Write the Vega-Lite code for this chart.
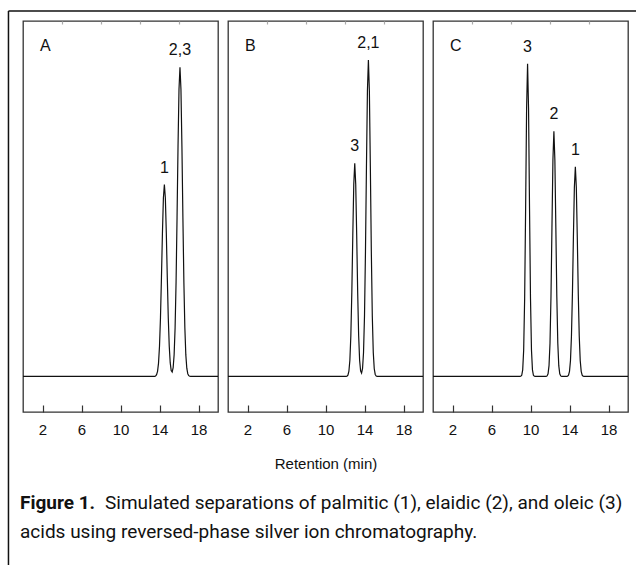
{
  "$schema": "https://vega.github.io/schema/vega-lite/v6.json",
  "padding": {"left": 7, "top": 9, "right": 0, "bottom": 0},
  "background": "white",
  "datasets": {
    "traceA": [{"t":0,"s":0},{"t":13.4,"s":0},{"t":13.5,"s":0.03},{"t":13.6,"s":0.14},{"t":13.7,"s":0.48},{"t":13.8,"s":1.44},{"t":13.9,"s":3.76},{"t":14.0,"s":8.48},{"t":14.1,"s":16.5},{"t":14.2,"s":27.8},{"t":14.3,"s":40.2},{"t":14.4,"s":50.2},{"t":14.5,"s":54},{"t":14.6,"s":50.2},{"t":14.7,"s":40.2},{"t":14.8,"s":27.8},{"t":14.9,"s":16.5},{"t":15.0,"s":8.5},{"t":15.1,"s":3.81},{"t":15.2,"s":1.66},{"t":15.3,"s":1.24},{"t":15.4,"s":2.46},{"t":15.5,"s":6.1},{"t":15.6,"s":13.7},{"t":15.7,"s":26.6},{"t":15.8,"s":44.7},{"t":15.9,"s":64.7},{"t":16.0,"s":80.8},{"t":16.1,"s":87},{"t":16.2,"s":80.8},{"t":16.3,"s":64.7},{"t":16.4,"s":44.7},{"t":16.5,"s":26.6},{"t":16.6,"s":13.7},{"t":16.7,"s":6.06},{"t":16.8,"s":2.32},{"t":16.9,"s":0.77},{"t":17.0,"s":0.22},{"t":17.1,"s":0.05},{"t":17.2,"s":0},{"t":20,"s":0}],
    "traceB": [{"t":0,"s":0},{"t":12.1,"s":0},{"t":12.2,"s":0.08},{"t":12.3,"s":0.38},{"t":12.4,"s":1.46},{"t":12.5,"s":4.54},{"t":12.6,"s":11.5},{"t":12.7,"s":23.7},{"t":12.8,"s":39.7},{"t":12.9,"s":54.1},{"t":13.0,"s":60},{"t":13.1,"s":54.1},{"t":13.2,"s":39.7},{"t":13.3,"s":23.7},{"t":13.4,"s":11.5},{"t":13.5,"s":4.56},{"t":13.6,"s":1.58},{"t":13.7,"s":0.94},{"t":13.8,"s":2.24},{"t":13.9,"s":6.74},{"t":14.0,"s":17.0},{"t":14.1,"s":35.2},{"t":14.2,"s":58.9},{"t":14.3,"s":80.3},{"t":14.4,"s":89},{"t":14.5,"s":80.3},{"t":14.6,"s":58.9},{"t":14.7,"s":35.2},{"t":14.8,"s":17.0},{"t":14.9,"s":6.73},{"t":15.0,"s":2.16},{"t":15.1,"s":0.56},{"t":15.2,"s":0.12},{"t":15.3,"s":0.02},{"t":15.4,"s":0},{"t":20,"s":0}],
    "traceC": [{"t":0,"s":0},{"t":8.9,"s":0},{"t":9.0,"s":0.04},{"t":9.1,"s":0.34},{"t":9.2,"s":1.86},{"t":9.3,"s":7.45},{"t":9.4,"s":21.9},{"t":9.5,"s":47.4},{"t":9.6,"s":75.4},{"t":9.7,"s":88},{"t":9.8,"s":75.4},{"t":9.9,"s":47.4},{"t":10.0,"s":21.9},{"t":10.1,"s":7.45},{"t":10.2,"s":1.86},{"t":10.3,"s":0.34},{"t":10.4,"s":0.04},{"t":10.5,"s":0},{"t":11.5,"s":0},{"t":11.6,"s":0.02},{"t":11.7,"s":0.15},{"t":11.8,"s":0.77},{"t":11.9,"s":3.03},{"t":12.0,"s":9.34},{"t":12.1,"s":22.4},{"t":12.2,"s":41.8},{"t":12.3,"s":60.9},{"t":12.4,"s":69},{"t":12.5,"s":60.9},{"t":12.6,"s":41.8},{"t":12.7,"s":22.4},{"t":12.8,"s":9.34},{"t":12.9,"s":3.03},{"t":13.0,"s":0.77},{"t":13.1,"s":0.15},{"t":13.2,"s":0.02},{"t":13.3,"s":0},{"t":13.7,"s":0},{"t":13.8,"s":0.08},{"t":13.9,"s":0.37},{"t":14.0,"s":1.43},{"t":14.1,"s":4.46},{"t":14.2,"s":11.3},{"t":14.3,"s":23.3},{"t":14.4,"s":39.1},{"t":14.5,"s":53.2},{"t":14.6,"s":59},{"t":14.7,"s":53.2},{"t":14.8,"s":39.1},{"t":14.9,"s":23.3},{"t":15.0,"s":11.3},{"t":15.1,"s":4.46},{"t":15.2,"s":1.43},{"t":15.3,"s":0.37},{"t":15.4,"s":0.08},{"t":15.5,"s":0},{"t":20,"s":0}],
    "peaks": [{"p":"A","lab":"1","t":14.5,"s":54},{"p":"A","lab":"2,3","t":16.1,"s":87},{"p":"B","lab":"3","t":13.0,"s":60},{"p":"B","lab":"2,1","t":14.4,"s":89},{"p":"C","lab":"3","t":9.7,"s":88},{"p":"C","lab":"2","t":12.4,"s":69},{"p":"C","lab":"1","t":14.6,"s":59}]
  },
  "title": {
    "text": "acids using reversed-phase silver ion chromatography.",
    "orient": "bottom", "anchor": "start", "frame": "group", "offset": -44, "dx": -3, "baseline": "top",
    "font": "Roboto, sans-serif", "fontSize": 19, "fontWeight": "normal", "color": "#111"
  },
  "vconcat": [
    {
      "title": {
        "text": "Simulated separations of palmitic (1), elaidic (2), and oleic (3)",
        "orient": "bottom", "anchor": "start", "frame": "group", "offset": -73, "dx": 82, "baseline": "top",
        "font": "Roboto, sans-serif", "fontSize": 19, "fontWeight": "normal", "color": "#111"
      },
      "vconcat": [
        {
          "title": {
            "text": "Figure 1.",
            "orient": "bottom", "anchor": "start", "frame": "group", "offset": -73, "dx": -3, "baseline": "top",
            "font": "Roboto, sans-serif", "fontSize": 19, "fontWeight": "bold", "color": "#111"
          },
          "bounds": "flush",
          "spacing": 10,
          "hconcat": [
            {
              "width": 195, "height": 391,
              "title": {"text": "A", "anchor": "start", "frame": "group", "offset": -57, "dx": 17, "fontSize": 16, "font": "Liberation Sans", "fontWeight": "normal", "baseline": "alphabetic", "color": "#111"},
              "resolve": {"axis": {"x": "independent"}},
              "layer": [
                {"data": {"name": "traceA"}, "mark": {"type": "line", "stroke": "#111", "strokeWidth": 1.2},
                 "encoding": {"x": {"field": "t", "type": "quantitative", "scale": {"domain": [0, 20], "nice": false, "zero": false}, "axis": {"values": [2, 6, 10, 14, 18], "title": null}},
                              "y": {"field": "s", "type": "quantitative", "scale": {"domain": [-10, 100], "nice": false, "zero": false}, "axis": null}}},
                {"data": {"name": "peaks"}, "transform": [{"filter": "datum.p === 'A'"}],
                 "mark": {"type": "text", "baseline": "alphabetic", "dy": -12, "font": "Liberation Sans", "fontSize": 16, "fill": "#111"},
                 "encoding": {"x": {"field": "t", "type": "quantitative", "axis": {"values": [4, 8, 12, 16], "labels": false, "tickSize": -3, "tickColor": "#aaa", "title": null}},
                              "y": {"field": "s", "type": "quantitative"}, "text": {"field": "lab"}}},
                {"data": {"values": [{}]}, "mark": {"type": "rule", "stroke": "#111", "strokeWidth": 1.5},
                 "encoding": {"x": {"datum": -1.49, "type": "quantitative", "axis": null}, "y": {"datum": 102.8, "type": "quantitative"}, "y2": {"datum": -53.3}}},
                {"data": {"values": [{}]}, "mark": {"type": "rule", "stroke": "#111", "strokeWidth": 1.5},
                 "encoding": {"x": {"datum": -1.49, "type": "quantitative", "axis": null}, "x2": {"datum": 62.9}, "y": {"datum": 102.8, "type": "quantitative"}}}
              ]
            },
            {
              "width": 195, "height": 391,
              "title": {"text": "B", "anchor": "start", "frame": "group", "offset": -47, "dx": 17, "fontSize": 16, "font": "Liberation Sans", "fontWeight": "normal", "baseline": "alphabetic", "color": "#111"},
              "resolve": {"axis": {"x": "independent"}},
              "layer": [
                {"data": {"name": "traceB"}, "mark": {"type": "line", "stroke": "#111", "strokeWidth": 1.2},
                 "encoding": {"x": {"field": "t", "type": "quantitative", "scale": {"domain": [0, 20], "nice": false, "zero": false}, "axis": {"values": [2, 6, 10, 14, 18], "title": "Retention (min)"}},
                              "y": {"field": "s", "type": "quantitative", "scale": {"domain": [-10, 100], "nice": false, "zero": false}, "axis": null}}},
                {"data": {"name": "peaks"}, "transform": [{"filter": "datum.p === 'B'"}],
                 "mark": {"type": "text", "baseline": "alphabetic", "dy": -12, "font": "Liberation Sans", "fontSize": 16, "fill": "#111"},
                 "encoding": {"x": {"field": "t", "type": "quantitative", "axis": {"values": [4, 8, 12, 16], "labels": false, "tickSize": -3, "tickColor": "#aaa", "title": null}},
                              "y": {"field": "s", "type": "quantitative"}, "text": {"field": "lab"}}}
              ]
            },
            {
              "width": 195, "height": 391,
              "title": {"text": "C", "anchor": "start", "frame": "group", "offset": -47, "dx": 17, "fontSize": 16, "font": "Liberation Sans", "fontWeight": "normal", "baseline": "alphabetic", "color": "#111"},
              "resolve": {"axis": {"x": "independent"}},
              "layer": [
                {"data": {"name": "traceC"}, "mark": {"type": "line", "stroke": "#111", "strokeWidth": 1.2},
                 "encoding": {"x": {"field": "t", "type": "quantitative", "scale": {"domain": [0, 20], "nice": false, "zero": false}, "axis": {"values": [2, 6, 10, 14, 18], "title": null}},
                              "y": {"field": "s", "type": "quantitative", "scale": {"domain": [-10, 100], "nice": false, "zero": false}, "axis": null}}},
                {"data": {"name": "peaks"}, "transform": [{"filter": "datum.p === 'C'"}],
                 "mark": {"type": "text", "baseline": "alphabetic", "dy": -12, "font": "Liberation Sans", "fontSize": 16, "fill": "#111"},
                 "encoding": {"x": {"field": "t", "type": "quantitative", "axis": {"values": [4, 8, 12, 16], "labels": false, "tickSize": -3, "tickColor": "#aaa", "title": null}},
                              "y": {"field": "s", "type": "quantitative"}, "text": {"field": "lab"}}}
              ]
            }
          ]
        }
      ]
    }
  ],
  "config": {
    "view": {"stroke": "#333", "strokeWidth": 1.3},
    "axis": {"tickSize": -7, "tickColor": "#333", "tickWidth": 1.2, "domain": false, "grid": false, "labelFont": "Liberation Sans", "labelFontSize": 15, "labelColor": "#111", "labelPadding": 17, "labelFlush": false, "format": "d",
             "titleFont": "Liberation Sans", "titleFontSize": 15, "titleFontWeight": "normal", "titleColor": "#111", "titlePadding": 19}
  }
}
